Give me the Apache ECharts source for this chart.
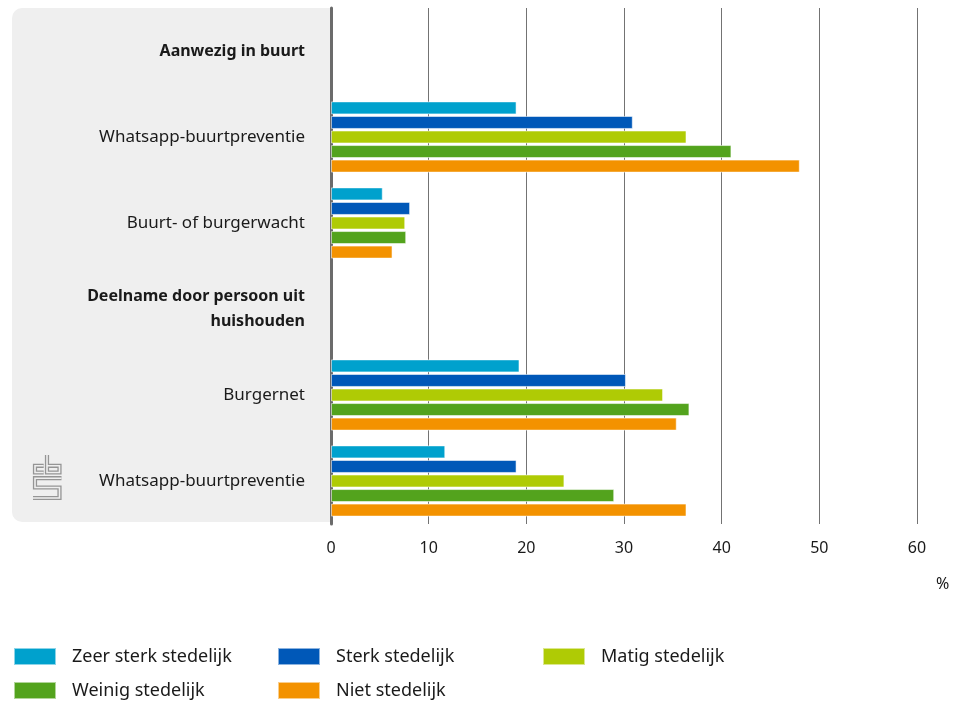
<!DOCTYPE html>
<html>
<head>
<meta charset="utf-8">
<script src="https://cdn.jsdelivr.net/npm/echarts@6/dist/echarts.min.js"></script>
<style>
  html, body { margin: 0; padding: 0; background: #fff; }
  #chart { width: 955px; height: 702px; }
</style>
</head>
<body>
<div id="chart"></div>
<script>
// categorieën (van boven naar beneden), kopregels hebben geen waarden
var categories = ['Aanwezig in buurt', 'Whatsapp-buurtpreventie', 'Buurt- of burgerwacht',
    'Deelname door persoon uit\nhuishouden', 'Burgernet', 'Whatsapp-buurtpreventie'];
var headerRows = [0, 3];

var seriesNames = ['Zeer sterk stedelijk', 'Sterk stedelijk', 'Matig stedelijk', 'Weinig stedelijk', 'Niet stedelijk'];
var colors = ['#00a1cd', '#0058b8', '#afcb05', '#53a31d', '#f39200'];

var zeerSterk = [null, 19.0, 5.3, null, 19.3, 11.7];
var sterk     = [null, 30.9, 8.1, null, 30.2, 19.0];
var matig     = [null, 36.4, 7.6, null, 34.0, 23.9];
var weinig    = [null, 41.0, 7.7, null, 36.7, 29.0];
var niet      = [null, 48.0, 6.3, null, 35.4, 36.4];

var xTicks = [0, 10, 20, 30, 40, 50, 60];

var font = 'Noto Sans';
var myChart = echarts.init(document.getElementById('chart'));

//balken
function makeSeries(){
    var values = [zeerSterk, sterk, matig, weinig, niet];
    var list = [];
    for(var i=0; i<values.length; i++){
        list.push({
            name: seriesNames[i],
            type: 'bar',
            barWidth: 13,
            barGap: '12%',
            data: values[i],
            itemStyle: {
                color: colors[i],
                borderColor: 'rgba(255,255,255,0.55)',
                borderWidth: 1
            },
            emphasis: { disabled: true }
        });
    }
    return list;
}

// legenda: elk item los geplaatst (3 kolommen)
var legendLeft = [13, 277, 542, 13, 277];
var legendTop = [647, 647, 647, 681, 681];
function makeLegends(){
    var list = [];
    for(var i=0; i<seriesNames.length; i++){
        list.push({
            data: [seriesNames[i]],
            left: legendLeft[i],
            top: legendTop[i],
            padding: 0,
            icon: 'rect',
            itemWidth: 42,
            itemHeight: 17,
            selectedMode: false,
            textStyle: {
                fontFamily: font,
                fontSize: 18,
                color: '#1a1a1a',
                padding: [0, 0, 0, 11]
            }
        });
    }
    return list;
}

// cbs logo als dubbele lijn
function logoPart(points, w, c, z){
    return {
        type: 'polyline',
        z: z,
        silent: true,
        shape: { points: points },
        style: { stroke: c, lineWidth: w, fill: null, lineJoin: 'miter', lineCap: 'butt' }
    };
}
var logoLines = [
    [[43.7, 465.8], [35, 465.8], [35, 472.5], [43.7, 472.5]],
    [[47, 455], [47, 472.5], [59.5, 472.5], [59.5, 465.8], [47, 465.8]],
    [[61.5, 478.2], [35, 478.2], [35, 487.5], [59.5, 487.5], [59.5, 498], [33, 498]]
];
var graphics = [{
    type: 'rect',
    z: -10,
    silent: true,
    shape: { x: 12, y: 8, width: 319, height: 514, r: [10, 0, 0, 10] },
    style: { fill: '#efefef' }
}];
for(var k=0; k<logoLines.length; k++){
    graphics.push(logoPart(logoLines[k], 4.2, '#959595', -9));
    graphics.push(logoPart(logoLines[k], 1.6, '#efefef', -8));
}

var option = {
    animation: false,
    textStyle: { fontFamily: font },
    graphic: graphics,
    grid: {
        left: 331,
        right: 38,
        top: 8,
        bottom: 178,
        containLabel: false
    },
    legend: makeLegends(),
    xAxis: {
        type: 'value',
        min: xTicks[0],
        max: xTicks[xTicks.length - 1],
        interval: 10,
        name: '%',
        nameLocation: 'end',
        nameGap: 19,
        nameTextStyle: {
            fontFamily: font,
            fontSize: 16,
            color: '#1a1a1a',
            align: 'left',
            verticalAlign: 'top',
            padding: [52, 0, 0, 0]
        },
        axisLine: { show: false },
        axisTick: { show: false },
        axisLabel: {
            margin: 16,
            fontFamily: font,
            fontSize: 16,
            color: '#1a1a1a'
        },
        splitLine: {
            show: true,
            lineStyle: { color: '#737373', width: 1 }
        }
    },
    yAxis: {
        type: 'category',
        inverse: true,
        data: categories,
        axisLine: {
            show: true,
            lineStyle: { color: '#6b6b6b', width: 3 }
        },
        axisTick: { show: false },
        splitLine: { show: false },
        axisLabel: {
            margin: 26,
            fontFamily: font,
            fontSize: 17,
            color: '#1a1a1a',
            lineHeight: 25,
            align: 'right',
            formatter: function (value, index) {
                if (headerRows.indexOf(index) >= 0) {
                    return value.split('\n').map(function (s) { return '{b|' + s + '}'; }).join('\n');
                }
                return value;
            },
            rich: {
                b: { fontWeight: 'bold', fontFamily: font, fontSize: 16, color: '#1a1a1a', lineHeight: 25 }
            }
        }
    },
    series: makeSeries()
};

myChart.setOption(option);
</script>
</body>
</html>
